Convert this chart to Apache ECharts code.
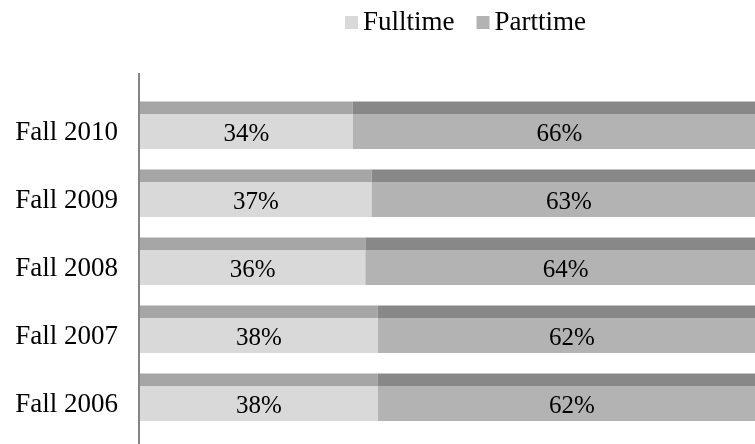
<!DOCTYPE html>
<html>
<head>
<meta charset="utf-8">
<script src="https://cdn.jsdelivr.net/npm/echarts@6/dist/echarts.min.js"></script>
<style>
  html, body { margin: 0; padding: 0; background: #fff; }
  #main { width: 755px; height: 444px; }
</style>
</head>
<body>
<div id="main"></div>
<script>
// categories bottom -> top
var categories = ["Fall 2006", "Fall 2007", "Fall 2008", "Fall 2009", "Fall 2010"];
var fulltime = [38, 38, 36, 37, 34];
var parttime = [62, 62, 64, 63, 66];

var fontFamily = '"Liberation Serif", "Times New Roman", serif';

// 顶部深色条 + 主体浅色条
function makeRender(topColor, mainColor) {
    return function (params, api) {
        var cat = api.value(0);
        var p0 = api.coord([api.value(1), cat]);
        var p1 = api.coord([api.value(2), cat]);
        var band = api.size([0, 1])[1];
        var c = p0[1];
        var w = p1[0] - p0[0];
        var stripTop = c - band * 0.465;
        var mainTop = c - band * 0.28;
        var mainH = band * 0.515;
        return {
            type: "group",
            children: [
                {
                    type: "rect",
                    shape: {x: p0[0], y: stripTop, width: w, height: mainTop - stripTop},
                    style: {fill: topColor}
                },
                {
                    type: "rect",
                    shape: {x: p0[0], y: mainTop, width: w, height: mainH},
                    style: {fill: mainColor}
                },
                {
                    type: "text",
                    style: {
                        text: api.value(3) + "%",
                        x: p0[0] + w / 2,
                        y: mainTop + mainH / 2 + 2.5,
                        align: "center",
                        verticalAlign: "middle",
                        font: "25px " + fontFamily,
                        fill: "#000"
                    }
                }
            ]
        };
    };
}

var ftData = [];
var ptData = [];
categories.forEach(function (name, i) {
    ftData.push([i, 0, fulltime[i], fulltime[i]]);
    ptData.push([i, fulltime[i], fulltime[i] + parttime[i], parttime[i]]);
});

var chart = echarts.init(document.getElementById("main"));
chart.setOption({
    animation: false,
    legend: {
        top: 4,
        left: 340,
        itemWidth: 13,
        itemHeight: 13,
        itemGap: 22,
        icon: "rect",
        textStyle: {fontFamily: fontFamily, fontSize: 27, color: "#000"},
        data: ["Fulltime", "Parttime"]
    },
    grid: {
        left: 140,
        right: -11,
        top: 99,
        bottom: 5,
        outerBoundsMode: "none"
    },
    xAxis: {
        type: "value",
        min: 0,
        max: 100,
        show: false
    },
    yAxis: {
        type: "category",
        data: categories,
        axisLine: {show: false},
        axisTick: {show: false},
        axisLabel: {
            margin: 22,
            fontFamily: fontFamily,
            fontSize: 27,
            color: "#000"
        }
    },
    graphic: [
        {
            type: "line",
            shape: {x1: 139, y1: 73, x2: 139, y2: 444},
            style: {stroke: "#868686", lineWidth: 2}
        }
    ],
    series: [
        {
            name: "Fulltime",
            type: "custom",
            itemStyle: {color: "#d9d9d9"},
            encode: {x: [1, 2], y: 0},
            renderItem: makeRender("#a6a6a6", "#d9d9d9"),
            data: ftData
        },
        {
            name: "Parttime",
            type: "custom",
            itemStyle: {color: "#b3b3b3"},
            encode: {x: [1, 2], y: 0},
            renderItem: makeRender("#888888", "#b3b3b3"),
            data: ptData
        }
    ]
});
</script>
</body>
</html>
